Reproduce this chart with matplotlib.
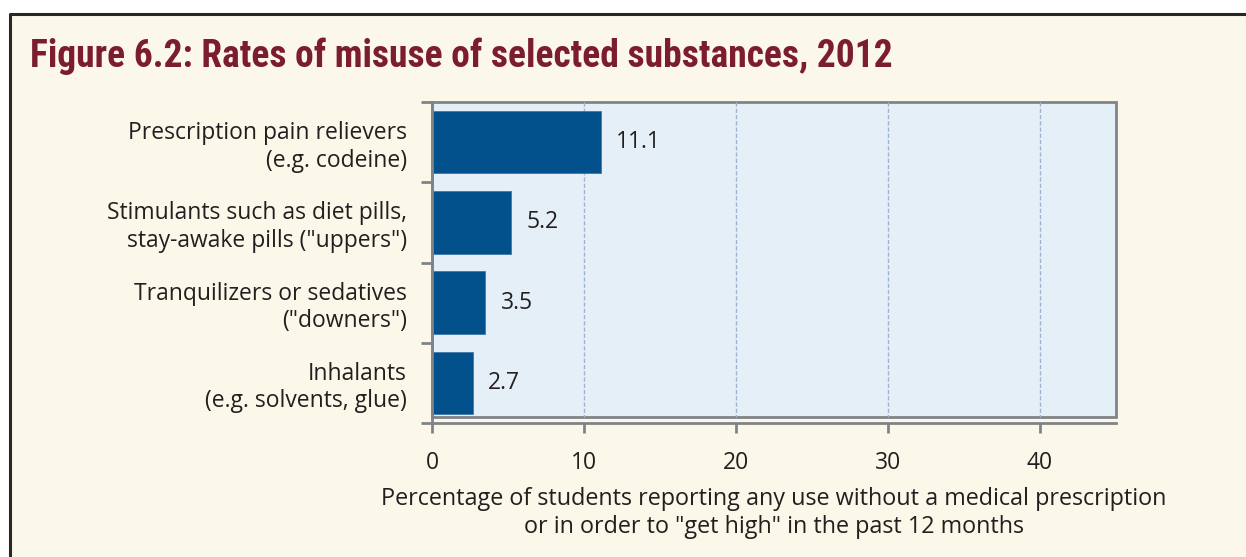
import matplotlib.pyplot as plt
from matplotlib.patches import Rectangle
from matplotlib.lines import Line2D

# data
categories = ['Prescription pain relievers\n(e.g. codeine)',
              'Stimulants such as diet pills,\nstay-awake pills ("uppers")',
              'Tranquilizers or sedatives\n("downers")',
              'Inhalants\n(e.g. solvents, glue)']
values = [11.1, 5.2, 3.5, 2.7]
xticks = [0, 10, 20, 30, 40]

bg = '#fbf7e9'
panel = '#e5eff7'
bar_color = '#03518c'
axis_gray = '#7f8488'
text_color = '#231f20'
fs = 16.5

plt.rcParams['font.family'] = ['Open Sans', 'DejaVu Sans']

fig = plt.figure(figsize=(12.46, 5.57), dpi=100)
fig.patch.set_facecolor(bg)

# white margin outside the dark border (top and left)
fig.patches.append(Rectangle((0, 1 - 14 / 557), 1, 14 / 557, transform=fig.transFigure,
                             facecolor='white', edgecolor='none', zorder=-5))
fig.patches.append(Rectangle((0, 0), 10 / 1246, 1, transform=fig.transFigure,
                             facecolor='white', edgecolor='none', zorder=-5))
fig.lines.append(Line2D([10 / 1246, 10 / 1246, 1.0], [0, 1 - 14 / 557, 1 - 14 / 557],
                        transform=fig.transFigure, color='#2b2622', lw=2.2, zorder=-4))

fig.text(30 / 1246, 1 - 56 / 557, 'Figure 6.2: Rates of misuse of selected substances, 2012',
         family=['Roboto Condensed', 'Roboto', 'DejaVu Sans'], fontweight='bold',
         fontsize=27, color='#7b1d2c', va='center', ha='left')

ax = fig.add_axes([432 / 1246, 134 / 557, 684 / 1246, 321 / 557])
ax.set_facecolor('none')
ax.set_xlim(0, 45)
ax.set_ylim(3.5, -0.5)

# light blue box ends a little above the x axis line
ax.add_patch(Rectangle((0, -0.5), 45, 3.925, facecolor=panel, edgecolor=axis_gray,
                       lw=2, zorder=0, clip_on=False))
for x in xticks[1:]:
    ax.plot([x, x], [-0.5, 3.425], color='#9fb4cf', lw=1, ls=(0, (3, 1.5)), zorder=1)

y = range(len(categories))
ax.barh(y, values, height=0.78, color=bar_color, edgecolor='#3f78a8', lw=0.6, zorder=2)
for i, v in enumerate(values):
    ax.annotate(f'{v}', (v, i), xytext=(11, 0), textcoords='offset points',
                va='center', ha='left', fontsize=fs, color=text_color)

for s in ['top', 'right']:
    ax.spines[s].set_visible(False)
for s in ['left', 'bottom']:
    ax.spines[s].set_color(axis_gray)
    ax.spines[s].set_linewidth(2)

ax.set_yticks([-0.5, 0.5, 1.5, 2.5, 3.5])
ax.set_yticklabels([])
ax.set_yticks(list(y), minor=True)
ax.set_yticklabels(categories, minor=True, fontsize=fs, color=text_color,
                   linespacing=1.2)
ax.tick_params(axis='y', which='major', direction='out', length=8, width=2, color=axis_gray)
ax.tick_params(axis='y', which='minor', length=0, pad=18)

ax.set_xticks(xticks)
ax.set_xticklabels([str(t) for t in xticks], fontsize=fs, color=text_color)
ax.tick_params(axis='x', direction='out', length=7, width=2, color=axis_gray, pad=13)

ax.set_xlabel('Percentage of students reporting any use without a medical prescription\n'
              'or in order to "get high" in the past 12 months',
              fontsize=16.8, color=text_color, linespacing=1.2, labelpad=9)

fig.savefig('out.png', dpi=100, facecolor=fig.get_facecolor())
